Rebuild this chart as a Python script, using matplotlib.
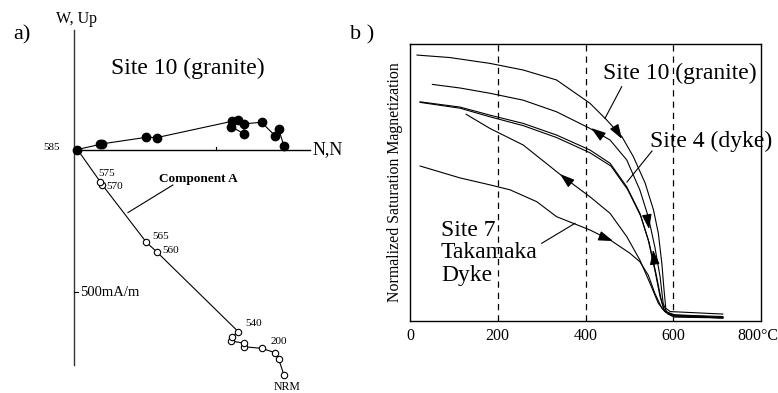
import matplotlib.pyplot as plt
from matplotlib.transforms import ScaledTranslation
import numpy as np

plt.rcParams['font.family'] = ['Liberation Serif', 'DejaVu Serif']

# ---------------- panel a : Zijderveld plot, Site 10 (mA/m), NRM -> 585
zij_steps = ['NRM', '', '200', '', '', '', '', '', '540', '560', '565', '570', '575', '585']
zij_north = [739, 720, 708, 660, 597, 599, 554, 557, 578, 292, 255, 100, 92, 12]
zij_west = [13, 72, 48, 96, 90, 55, 80, 100, 104, 42, 43, 20, 18, 0]
zij_up = [-794, -736, -715, -700, -694, -682, -674, -661, -641, -361, -327, -125, -113, 0]

# ---------------- panel b : thermomagnetic curves (T in C, normalized Ms)
s10_heat_t = [16, 91, 182, 258, 334, 410, 448, 483, 509, 536, 555, 566, 574, 579, 583, 593, 713]
s10_heat_m = [0.960, 0.951, 0.930, 0.906, 0.870, 0.786, 0.726, 0.665, 0.593, 0.497, 0.400,
              0.316, 0.207, 0.111, 0.045, 0.033, 0.024]
s10_cool_t = [51, 114, 182, 258, 334, 410, 456, 494, 524, 543, 558, 570, 577, 585, 604, 713]
s10_cool_m = [0.854, 0.841, 0.822, 0.797, 0.755, 0.695, 0.653, 0.581, 0.472, 0.376, 0.267,
              0.159, 0.063, 0.031, 0.021, 0.015]
s4_heat_t = [23, 114, 182, 258, 334, 410, 456, 494, 524, 543, 558, 570, 579, 597, 713]
s4_heat_m = [0.791, 0.772, 0.743, 0.713, 0.671, 0.617, 0.569, 0.484, 0.388, 0.292, 0.183,
             0.087, 0.039, 0.021, 0.012]
s4_cool_t = [23, 114, 182, 258, 334, 410, 458, 496, 526, 545, 560, 572, 580, 597, 713]
s4_cool_m = [0.789, 0.768, 0.737, 0.705, 0.662, 0.607, 0.559, 0.474, 0.378, 0.282, 0.175,
             0.080, 0.034, 0.017, 0.010]
s7_cool_t = [128, 182, 258, 349, 410, 456, 494, 524, 547, 566, 581, 604, 713]
s7_cool_m = [0.746, 0.695, 0.635, 0.520, 0.448, 0.388, 0.304, 0.219, 0.135, 0.063, 0.033,
             0.017, 0.010]
s7_heat_t = [23, 114, 182, 228, 289, 334, 410, 456, 501, 524, 543, 558, 574, 588, 604, 713]
s7_heat_m = [0.559, 0.516, 0.491, 0.473, 0.430, 0.376, 0.328, 0.292, 0.244, 0.213, 0.165,
             0.099, 0.045, 0.024, 0.013, 0.010]
temp_ticks = [0, 200, 400, 600, 800]
temp_labels = ['0', '200', '400', '600', '800\u00b0C']

W, H = 778, 393
fig = plt.figure(figsize=(W / 100, H / 100), dpi=100)


def fx(px):
    return px / W


def fy(py):
    return 1 - py / H


# ---- panel a
ax_a = fig.add_axes([0, 0, 389 / W, 1])
k = 3.52          # mA/m per pixel
ox, oy = 74, 149.5
ax_a.set_xlim(-ox * k, (389 - ox) * k)
ax_a.set_ylim(-(H - oy) * k, oy * k)
ax_a.axis('off')

ax_a.plot([0, 0], [420, -760], color='#333333', lw=1.0)
ax_a.plot([0, 832], [0, 0], color='k', lw=1.0)
ax_a.plot([0, 14], [-500, -500], color='k', lw=0.8)
ax_a.plot([500, 500], [0, 10], color='k', lw=0.8)

ax_a.plot(zij_north, zij_up, color='k', lw=0.8, marker='o', ms=4.6,
          mfc='white', mec='k', mew=0.8, zorder=3)
ax_a.plot(zij_north, zij_west, color='k', lw=0.8, marker='o', ms=6,
          mfc='k', mec='k', zorder=4)

# step labels on the open circles (offsets in points)
label_offsets = {'NRM': (2, -8.5, 'center'), '200': (-3, 8, 'left'), '540': (5, 6, 'left'),
                 '560': (4, 1, 'left'), '565': (4, 4, 'left'), '570': (3, -1, 'left'),
                 '575': (5, 6, 'center')}
for n, u, s in zip(zij_north, zij_up, zij_steps):
    if s in label_offsets:
        dx, dy, ha = label_offsets[s]
        ax_a.annotate(s, (n, u), xytext=(dx, dy), textcoords='offset points',
                      ha=ha, va='center', fontsize=8 if s != 'NRM' else 8.5)
ax_a.annotate('585', (zij_north[-1], zij_west[-1]), xytext=(-13, 1.5),
              textcoords='offset points', ha='right', va='center', fontsize=8)

# component A leader
ax_a.plot([348, 190], [-125, -222], color='k', lw=0.8)
fig.text(fx(198), fy(179), 'Component A', ha='center', va='center',
         fontsize=9.5, fontweight='bold')

fig.text(fx(22), fy(35), 'a)', ha='center', va='center', fontsize=16)
fig.text(fx(77), fy(19), 'W, Up', ha='center', va='center', fontsize=11.5)
fig.text(fx(313), fy(150), 'N,N', ha='left', va='center', fontsize=13)
fig.text(fx(188), fy(68), 'Site 10 (granite)', ha='center', va='center', fontsize=17)
fig.text(fx(80), fy(292), '500mA/m', ha='left', va='center', fontsize=10.5)

# ---- panel b
ax_b = fig.add_axes([fx(410), fy(320.7), 351 / W, 276.7 / H])
ax_b.set_xlim(0, 800)
ax_b.set_ylim(0, 1)
for sp in ax_b.spines.values():
    sp.set_linewidth(1.0)
ax_b.set_xticks(temp_ticks)
ax_b.set_xticklabels(temp_labels)
ax_b.set_yticks([])
ax_b.tick_params(axis='x', length=0, pad=5, labelsize=11.5)
last = ax_b.get_xticklabels()[-1]
last.set_transform(last.get_transform() + ScaledTranslation(-3 / 100, 0, fig.dpi_scale_trans))
ax_b.set_ylabel('Normalized Saturation Magnetization', fontsize=11.4, labelpad=5)

for t in temp_ticks[1:4]:
    ax_b.axvline(t, color='k', lw=0.9, ls=(0, (5, 4)))

curves = [(s10_heat_t, s10_heat_m), (s10_cool_t, s10_cool_m),
          (s4_heat_t, s4_heat_m), (s4_cool_t, s4_cool_m),
          (s7_cool_t, s7_cool_m), (s7_heat_t, s7_heat_m)]
for t, m in curves:
    ax_b.plot(t, m, color='k', lw=0.8, solid_joinstyle='round')

# direction arrows: (head T, head M, tail T, tail M)
arrows = [(483, 0.657, 472, 0.685), (413, 0.696, 430, 0.676),
          (342, 0.530, 360, 0.506), (463, 0.288, 448, 0.297),
          (545, 0.331, 541, 0.370), (554, 0.256, 557, 0.215)]
for hx, hy, tx, ty in arrows:
    ax_b.annotate('', xy=(hx, hy), xytext=(tx, ty),
                  arrowprops=dict(arrowstyle='-|>,head_length=0.9,head_width=0.3',
                                  color='k', lw=0.8, shrinkA=0, shrinkB=0))

# curve labels and leaders
fig.text(fx(680), fy(73), 'Site 10 (granite)', ha='center', va='center', fontsize=17)
fig.text(fx(711), fy(141), 'Site 4 (dyke)', ha='center', va='center', fontsize=17)
fig.text(fx(441), fy(253), 'Site 7\nTakamaka\nDyke', ha='left', va='center',
         fontsize=17, linespacing=1.08)
fig.add_artist(plt.Line2D([fx(621.7), fx(605)], [fy(86.7), fy(118.3)], color='k', lw=0.8))
fig.add_artist(plt.Line2D([fx(652), fx(627)], [fy(151), fy(182)], color='k', lw=0.8))
fig.add_artist(plt.Line2D([fx(541.7), fx(575)], [fy(243.3), fy(223.3)], color='k', lw=0.8))

fig.text(fx(362), fy(35), 'b )', ha='center', va='center', fontsize=16)

fig.savefig('out.png', dpi=100)
